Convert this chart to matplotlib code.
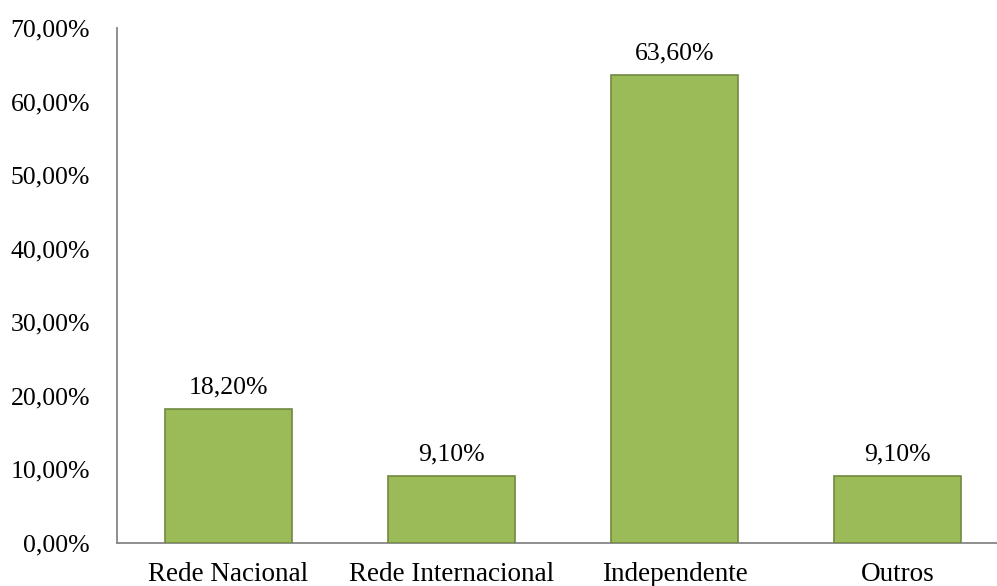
import matplotlib
matplotlib.use("Agg")
import matplotlib.pyplot as plt

categories = ["Rede Nacional", "Rede Internacional", "Independente", "Outros"]
values = [18.2, 9.1, 63.6, 9.1]
yticks = [0, 10, 20, 30, 40, 50, 60, 70]

plt.rcParams["font.family"] = ["Liberation Serif", "DejaVu Serif"]

W, H = 997, 586
fig = plt.figure(figsize=(W / 100, H / 100), dpi=100)
ax = fig.add_axes([117 / W, (H - 543) / H, 892 / W, 515 / H])

x = list(range(len(categories)))
ax.bar(x, values, width=0.57, color="#9BBB59", edgecolor="#71893F", linewidth=1.2, zorder=3)

def pct(v):
    return f"{v:.2f}".replace(".", ",") + "%"

for xi, v in zip(x, values):
    ax.text(xi, v + 2.1, pct(v), ha="center", va="baseline", fontsize=18.5, color="black")

ax.set_xlim(-0.5, 3.5)
ax.set_ylim(0, 70)
ax.set_yticks(yticks)
ax.set_yticklabels([pct(t) for t in yticks], fontsize=18.5)
ax.set_xticks(x)
ax.set_xticklabels(categories, fontsize=19.5, va="baseline")
ax.tick_params(axis="both", length=0)
ax.tick_params(axis="y", pad=19.5)
ax.tick_params(axis="x", pad=27.5)

for s in ["top", "right"]:
    ax.spines[s].set_visible(False)
for s in ["left", "bottom"]:
    ax.spines[s].set_color("#868686")
    ax.spines[s].set_linewidth(1.3)

fig.savefig("out.png", dpi=100)
